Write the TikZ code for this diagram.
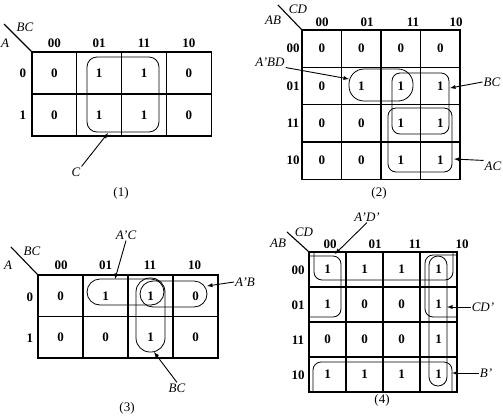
\documentclass[tikz,border=0pt]{standalone}
\usepackage{fontspec}
\setmainfont{Liberation Serif}
\usetikzlibrary{arrows}
\begin{document}
\begin{tikzpicture}[x=1pt, y=-1pt]
    \tikzset{
    cell/.style={
        rectangle,
        draw,
        line width=1.3pt,
        inner sep=0pt,
        font=\fontsize{13}{15}\selectfont\bfseries
    },
    hdr/.style={
        inner sep=1pt,
        font=\fontsize{13}{15}\selectfont\bfseries
    },
    lbl/.style={
        inner sep=1pt,
        font=\fontsize{13}{15}\selectfont\itshape
    },
    capt/.style={
        inner sep=1pt,
        font=\fontsize{13}{15}\selectfont
    },
    grp/.style={
        line width=0.8pt
    },
    arrow/.style={
        -latex, line width=0.9pt
    }
}
    \useasboundingbox (0,0) rectangle (503,416);

    % Tableau (1)
    \foreach \vals [count=\r from 0] in {{0,1,1,0},{0,1,1,0}}
        \foreach \v [count=\c from 0] in \vals
            \node[cell, minimum width=44.8pt, minimum height=42pt] (a-\r-\c) at (54.4+44.8*\c, 73+42*\r) {\v};
    \foreach \t [count=\c from 0] in {00,01,11,10}
        \node[hdr] (a-col-\c) at (54.4+44.8*\c, 43) {\t};
    \foreach \t [count=\r from 0] in {0,1}
        \node[hdr] (a-row-\r) at (23, 73+42*\r) {\t};
    \coordinate (a-diag) at (4,24);
    \draw[line width=1.1pt] (a-0-0.north west) -- (a-diag);
    \node[lbl] (a-BC) at (25,27) {BC};
    \node[lbl] (a-A) at (5,43) {A};
    \draw[grp, rounded corners=10pt] (87,57) rectangle (159,132);
    \node[lbl] (a-C) at (76,172) {C};
    \coordinate (a-C-tip) at (108,133);
    \draw[arrow] (a-C.north east) -- (a-C-tip);
    \node[capt] (cap1) at (121,193) {(1)};

    % Tableau (2)
    \foreach \vals [count=\r from 0] in {{0,0,0,0},{0,1,1,1},{0,0,1,1},{0,0,1,1}}
        \foreach \v [count=\c from 0] in \vals
            \node[cell, minimum width=39.5pt, minimum height=37.3pt] (b-\r-\c) at (321.75+39.5*\c, 48.65+37.3*\r) {\v};
    \foreach \t/\x [count=\c from 0] in {00/322,01/367,11/413,10/456}
        \node[hdr] (b-col-\c) at (\x, 22) {\t};
    \foreach \t [count=\r from 0] in {00,01,11,10}
        \node[hdr] (b-row-\r) at (293, 48.65+37.3*\r) {\t};
    \coordinate (b-diag) at (278,5);
    \draw[line width=1.1pt] (b-0-0.north west) -- (b-diag);
    \node[lbl] (b-CD) at (298,9) {CD};
    \node[lbl] (b-AB) at (273,20) {AB};
    \draw[grp, rounded corners=15pt] (349,69) rectangle (413,101);
    \draw[grp, rounded corners=8pt] (392,73) rectangle (449,134);
    \draw[grp, rounded corners=8pt] (388,108) rectangle (452,172);
    \node[lbl] (b-ABD) at (270,62) {A'BD};
    \node[lbl] (b-BCl) at (492,82) {BC};
    \node[lbl] (b-AC) at (493,166) {AC};
    \coordinate (b-ABD-tip) at (349,79);
    \coordinate (b-BC-tip) at (450,88);
    \coordinate (b-AC-tip) at (454,159);
    \draw[arrow] (b-ABD.south east) -- (b-ABD-tip);
    \draw[arrow] (b-BCl.west) -- (b-BC-tip);
    \draw[arrow] (b-AC.north west) -- (b-AC-tip);
    \node[capt] (cap2) at (379,193) {(2)};

    % Tableau (3)
    \foreach \vals [count=\r from 0] in {{0,1,1,0},{0,0,1,0}}
        \foreach \v [count=\c from 0] in \vals
            \node[cell, minimum width=45pt, minimum height=41.5pt] (c-\r-\c) at (60.5+45*\c, 295.75+41.5*\r) {\v};
    \foreach \t [count=\c from 0] in {00,01,11,10}
        \node[hdr] (c-col-\c) at (61+44.5*\c, 265) {\t};
    \foreach \t [count=\r from 0] in {0,1}
        \node[hdr] (c-row-\r) at (30, 297+41*\r) {\t};
    \coordinate (c-diag) at (11,247);
    \draw[line width=1.1pt] (c-0-0.north west) -- (c-diag);
    \node[lbl] (c-BC) at (32,251) {BC};
    \node[lbl] (c-A) at (8,265) {A};
    \draw[grp, rounded corners=13pt] (87,279) rectangle (164,305);
    \draw[grp, rounded corners=13pt] (140,281) rectangle (207,307);
    \draw[grp, rounded corners=14pt] (136,278) rectangle (165,352);
    \node[lbl] (c-AC) at (126,235) {A'C};
    \node[lbl] (c-AB) at (245,282) {A'B};
    \node[lbl] (c-BCl) at (177,388) {BC};
    \coordinate (c-AC-tip) at (115,279);
    \coordinate (c-AB-tip) at (207,286);
    \coordinate (c-BC-tip) at (154,352);
    \draw[arrow] (c-AC.south) -- (c-AC-tip);
    \draw[arrow] (c-AB.west) -- (c-AB-tip);
    \draw[arrow] (c-BCl.north) -- (c-BC-tip);
    \node[capt] (cap3) at (127,408) {(3)};

    % Tableau (4)
    \foreach \vals [count=\r from 0] in {{1,1,1,1},{1,0,0,1},{0,0,0,1},{1,1,1,1}}
        \foreach \v [count=\c from 0] in \vals
            \node[cell, minimum width=37pt, minimum height=35pt] (d-\r-\c) at (327.5+37*\c, 269.5+35*\r) {\v};
    \foreach \t/\x [count=\c from 0] in {00/330,01/375,11/415,10/462}
        \node[hdr] (d-col-\c) at (\x, 244) {\t};
    \foreach \t [count=\r from 0] in {00,01,11,10}
        \node[hdr] (d-row-\r) at (298, 270+35*\r) {\t};
    \coordinate (d-diag) at (287,232);
    \draw[line width=1.1pt] (d-0-0.north west) -- (d-diag);
    \node[lbl] (d-CD) at (304,232) {CD};
    \node[lbl] (d-AB) at (278,243) {AB};
    \draw[grp, rounded corners=8pt] (314,252) -- (314,280) -- (453,280) -- (453,252);
    \draw[grp, rounded corners=8pt] (313,392) -- (313,362) -- (452,362) -- (452,392);
    \draw[grp, rounded corners=8pt] (309,256) -- (341,256) -- (341,317) -- (309,317);
    \draw[grp, rounded corners=8pt] (457,255) -- (425,255) -- (425,317) -- (457,317);
    \draw[grp, rounded corners=9pt] (429,256) rectangle (447,386);
    \node[lbl] (d-AD) at (367,217) {A'D'};
    \node[lbl] (d-CDl) at (483,307) {CD'};
    \node[lbl] (d-B) at (486,373) {B'};
    \coordinate (d-AD-tip) at (335,254);
    \coordinate (d-CD-tip) at (447,307);
    \coordinate (d-B-tip) at (452,373);
    \draw[arrow] (d-AD.south) -- (d-AD-tip);
    \draw[arrow] (d-CDl.west) -- (d-CD-tip);
    \draw[arrow] (d-B.west) -- (d-B-tip);
    \node[capt] (cap4) at (382,400) {(4)};
\end{tikzpicture}
\end{document}
